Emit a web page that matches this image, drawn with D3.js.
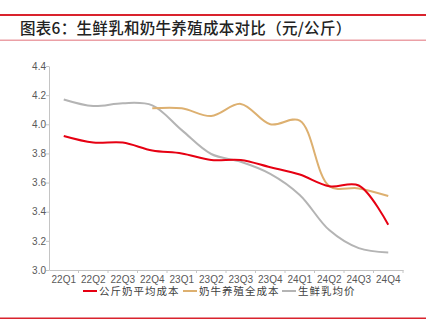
<!DOCTYPE html>
<html><head><meta charset="utf-8">
<script src="https://cdn.jsdelivr.net/npm/d3@7"></script>
<style>body{margin:0;background:#fff;}svg{display:block;}</style>
</head><body>
<script>
const categories = ["22Q1","22Q2","22Q3","22Q4","23Q1","23Q2","23Q3","23Q4","24Q1","24Q2","24Q3","24Q4"];
const avgCost = [3.92,3.875,3.875,3.82,3.80,3.755,3.755,3.705,3.655,3.575,3.58,3.31];
const fullCost = [null,null,null,4.11,4.11,4.057,4.14,4.0,4.025,3.576,3.56,3.508];
const milkPrice = [4.17,4.125,4.145,4.13,3.96,3.796,3.743,3.66,3.515,3.274,3.15,3.12];
const yTicks = [3.0,3.2,3.4,3.6,3.8,4.0,4.2,4.4];
const seriesNames = ["公斤奶平均成本","奶牛养殖全成本","生鲜乳均价"];
const colors = ["#e60012","#ddb070","#b4b4b4"];
const title = "图表6：生鲜乳和奶牛养殖成本对比（元/公斤）";

const W=436,H=324;
const svg=d3.select("body").append("svg").attr("width",W).attr("height",H);
const font="'Noto Sans CJK SC','Liberation Sans',sans-serif";

// header lines
svg.append("rect").attr("x",0).attr("y",14).attr("width",426).attr("height",2).attr("fill","#d9232d");
svg.append("rect").attr("x",0).attr("y",39.5).attr("width",426).attr("height",1.5).attr("fill","#eba0a6");
svg.append("rect").attr("x",0).attr("y",317.5).attr("width",426).attr("height",1.5).attr("fill","#d9232d");
svg.append("text").attr("x",20).attr("y",34).attr("font-family",font).attr("font-size",15.5).attr("font-weight",500)
  .attr("letter-spacing",0.3).attr("fill","#222").text(title);

const x=d3.scaleBand().domain(categories).range([49,403]);
const y=d3.scaleLinear().domain([3.0,4.4]).range([270,66]);

const axisColor="#c4c4c4", labColor="#595959";
const ya=svg.append("g").attr("transform","translate(49,0)").call(d3.axisLeft(y).tickValues(yTicks).tickFormat(d3.format(".1f")).tickSize(3).tickSizeOuter(0));
ya.select(".domain").attr("stroke",axisColor);
ya.selectAll(".tick line").attr("stroke",axisColor);
ya.selectAll("text").attr("fill",labColor).attr("font-family","'Liberation Sans',Arial,sans-serif").attr("font-size",10).attr("x",-3);

const xa=svg.append("g").attr("transform","translate(0,270)").call(d3.axisBottom(x).tickSize(0).tickSizeOuter(0));
xa.select(".domain").attr("stroke",axisColor);
xa.selectAll("text").attr("fill",labColor).attr("font-family","'Liberation Sans',Arial,sans-serif").attr("font-size",10).attr("dy","0.95em");
// category boundary ticks
xa.selectAll(".btick").data(categories.slice(1).concat(["end"])).enter().append("line").attr("class","btick")
  .attr("x1",(d,i)=>x(categories[0])+x.step()*(i+1)).attr("x2",(d,i)=>x(categories[0])+x.step()*(i+1))
  .attr("y1",0).attr("y2",3).attr("stroke",axisColor);

const draw=(arr,c)=>{
  const pts=arr.map((v,i)=>({v,i})).filter(p=>p.v!=null);
  const l=d3.line().x(p=>x(categories[p.i])+x.bandwidth()/2).y(p=>y(p.v)).curve(d3.curveCatmullRom.alpha(0.5));
  svg.append("path").attr("d",l(pts)).attr("fill","none").attr("stroke",c).attr("stroke-width",2);
};
draw(milkPrice,colors[2]);
draw(fullCost,colors[1]);
draw(avgCost,colors[0]);

// legend
const legX=[83,183,282];
seriesNames.forEach((n,i)=>{
  svg.append("line").attr("x1",legX[i]).attr("x2",legX[i]+14).attr("y1",291).attr("y2",291).attr("stroke",colors[i]).attr("stroke-width",2);
  svg.append("text").attr("x",legX[i]+16).attr("y",295).attr("font-family",font).attr("font-size",10.5)
    .attr("letter-spacing",1).attr("fill","#404040").text(n);
});
</script>
</body></html>
